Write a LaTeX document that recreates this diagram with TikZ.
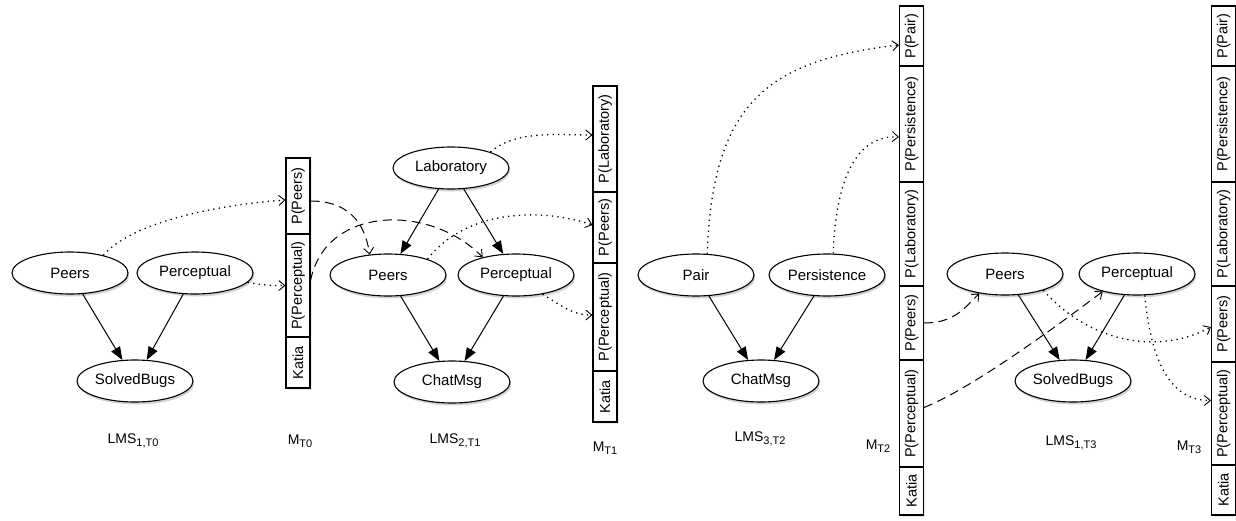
\documentclass[tikz,border=0pt]{standalone}
\usepackage{fontspec}
\setmainfont{Liberation Sans}
\usetikzlibrary{shapes.geometric,arrows.meta,shadows}
\newcommand{\mysub}[1]{\raisebox{-3.5pt}{\fontsize{11}{12}\selectfont #1}}
\begin{document}
\begin{tikzpicture}[x=1pt,y=-1pt,
  font=\fontsize{14.5}{17}\selectfont,
  var/.style={ellipse, draw, fill=white, line width=1.1pt, minimum width=116pt, minimum height=42pt, inner sep=0pt,
    font=\fontsize{15}{17}\selectfont,
    drop shadow={shadow xshift=1.2pt, shadow yshift=-2.5pt, opacity=0.35}},
  cell/.style={draw, fill=white, line width=1.1pt, rotate=90, minimum height=24pt, inner sep=0pt,
    drop shadow={shadow xshift=1.5pt, shadow yshift=-1.5pt, opacity=0.15}},
  cause/.style={line width=1pt, -{Triangle[length=13pt,width=10pt]}},
  obs/.style={line width=1.3pt, dash pattern=on 1.3pt off 4.2pt, -{Straight Barb[length=6pt,width=10pt,line width=0.9pt]}},
  infl/.style={line width=1pt, dash pattern=on 9pt off 5.5pt, -{Straight Barb[length=6pt,width=10pt,line width=0.9pt]}},
  lbl/.style={anchor=base, font=\fontsize{14}{16}\selectfont}
]
\useasboundingbox (0,0) rectangle (1236,520);

% ---- LMS 1, T0
\node[var] (l0peers) at (70,273) {Peers};
\node[var] (l0perc) at (195,273) {Perceptual};
\node[var] (l0bugs) at (135,381) {SolvedBugs};
% ---- LMS 2, T1
\node[var] (l1lab) at (451,168) {Laboratory};
\node[var] (l1peers) at (388,275) {Peers};
\node[var] (l1perc) at (516,275) {Perceptual};
\node[var] (l1chat) at (452,382) {ChatMsg};
% ---- LMS 3, T2
\node[var] (l2pair) at (696,275) {Pair};
\node[var] (l2pers) at (827,275) {Persistence};
\node[var] (l2chat) at (761,381) {ChatMsg};
% ---- LMS 1, T3
\node[var] (l3peers) at (1005,274) {Peers};
\node[var] (l3perc) at (1137,274) {Perceptual};
\node[var] (l3bugs) at (1073,381) {SolvedBugs};

% ---- M T0
\node[cell, minimum width=76pt] (m0peers) at (298,196) {P(Peers)};
\node[cell, minimum width=103pt] (m0perc) at (298,285.5) {P(Perceptual)};
\node[cell, minimum width=51pt] (m0katia) at (298,362.5) {Katia};
% ---- M T1
\node[cell, minimum width=106pt] (m1lab) at (605,139) {P(Laboratory)};
\node[cell, minimum width=71pt] (m1peers) at (605,227.5) {P(Peers)};
\node[cell, minimum width=108pt] (m1perc) at (605,317) {P(Perceptual)};
\node[cell, minimum width=51pt] (m1katia) at (605,396.5) {Katia};
% ---- M T2
\node[cell, minimum width=60pt] (m2pair) at (911.5,36) {P(Pair)};
\node[cell, minimum width=116pt] (m2pers) at (911.5,124) {P(Persistence)};
\node[cell, minimum width=104pt] (m2lab) at (911.5,234) {P(Laboratory)};
\node[cell, minimum width=74pt] (m2peers) at (911.5,323) {P(Peers)};
\node[cell, minimum width=107pt] (m2perc) at (911.5,413.5) {P(Perceptual)};
\node[cell, minimum width=48pt] (m2katia) at (911.5,491) {Katia};
% ---- M T3
\node[cell, minimum width=60pt] (m3pair) at (1223.5,36) {P(Pair)};
\node[cell, minimum width=116pt] (m3pers) at (1223.5,124) {P(Persistence)};
\node[cell, minimum width=104pt] (m3lab) at (1223.5,234) {P(Laboratory)};
\node[cell, minimum width=76pt] (m3peers) at (1223.5,324) {P(Peers)};
\node[cell, minimum width=103pt] (m3perc) at (1223.5,413.5) {P(Perceptual)};
\node[cell, minimum width=50pt] (m3katia) at (1223.5,490) {Katia};

% ---- labels
\node[lbl] (t0) at (133,443) {LMS\mysub{1,T0}};
\node[lbl] (mt0) at (300,444) {M\mysub{T0}};
\node[lbl] (t1) at (455,443) {LMS\mysub{2,T1}};
\node[lbl] (mt1) at (605,451) {M\mysub{T1}};
\node[lbl] (t2) at (760,441) {LMS\mysub{3,T2}};
\node[lbl] (mt2) at (878,449) {M\mysub{T2}};
\node[lbl] (t3) at (1071,445) {LMS\mysub{1,T3}};
\node[lbl] (mt3) at (1189,450) {M\mysub{T3}};

% ---- causal edges
\draw[cause] (l0peers) -- (l0bugs);
\draw[cause] (l0perc) -- (l0bugs);
\draw[cause] (l1lab) -- (l1peers);
\draw[cause] (l1lab) -- (l1perc);
\draw[cause] (l1peers) -- (l1chat);
\draw[cause] (l1perc) -- (l1chat);
\draw[cause] (l2pair) -- (l2chat);
\draw[cause] (l2pers) -- (l2chat);
\draw[cause] (l3peers) -- (l3bugs);
\draw[cause] (l3perc) -- (l3bugs);

% ---- observations (dotted)
\draw[obs] (l0peers.28) .. controls +(30,-35) and +(-60,4) .. ([yshift=-4pt]m0peers.north);
\draw[obs] (l0perc.-10) .. controls +(15,3) and +(-15,0) .. (m0perc.north);
\draw[obs] (l1lab.22) .. controls +(25,-22) and +(-35,0) .. ([yshift=4pt]m1lab.north);
\draw[obs] (l1peers.22) .. controls +(43,-54) and +(-43,-15) .. ([yshift=2.5pt]m1peers.north);
\draw[obs] (l1perc.-36) .. controls +(20,12) and +(-20,0) .. ([yshift=2pt]m1perc.north);
\draw[obs] (l2pair.62) .. controls +(5,-153) and +(-129,15) .. ([yshift=-9pt]m2pair.north);
\draw[obs] (l2pers.74) .. controls +(3,-82) and +(-39,-2) .. ([yshift=-13pt]m2pers.north);
\draw[obs] (l3peers.-23) .. controls +(47,53) and +(-52,28) .. ([yshift=-3pt]m3peers.north);
\draw[obs] (l3perc.-70) .. controls +(7,74) and +(-37,0) .. ([yshift=13pt]m3perc.north);

% ---- influences (dashed)
\draw[infl] ([yshift=-5pt]m0peers.south) .. controls +(35,0) and +(-5,-35) .. (l1peers.132);
\draw[infl] ([yshift=5pt]m0perc.south) .. controls +(15,-75) and +(-53,-54) .. (l1perc.152);
\draw[infl] (m2peers.south) .. controls +(30,0) and +(-15,15) .. (l3peers.217);
\draw[infl] ([yshift=6pt]m2perc.south) .. controls +(50,-20) and +(-40,30) .. (l3perc.207);
\end{tikzpicture}
\end{document}
